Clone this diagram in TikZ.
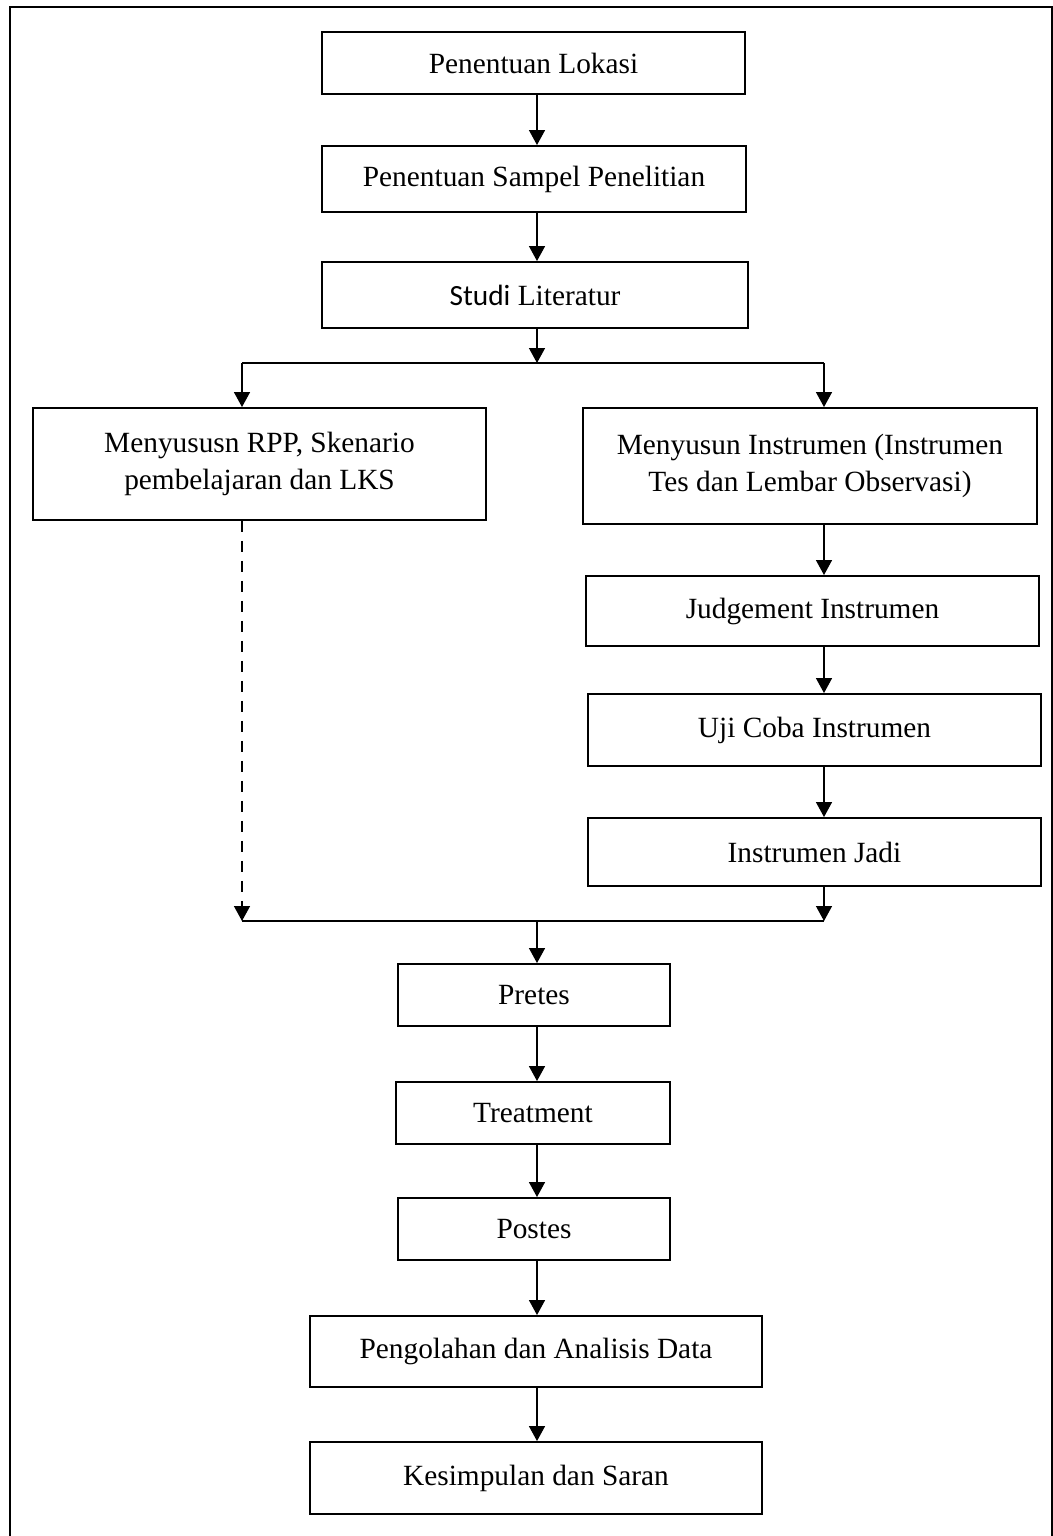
\documentclass[tikz,border=0pt]{standalone}
\usepackage{fontspec}
\setmainfont{Liberation Serif}
\newfontfamily\carlito{Carlito}
\usetikzlibrary{arrows.meta}

\begin{document}
\begin{tikzpicture}[x=0.02cm, y=-0.02cm,
    box/.style={draw, line width=1.1pt, align=center, inner sep=0pt,
        font=\fontsize{16.7}{21}\selectfont},
    arr/.style={-{Triangle[length=0.3cm, width=0.32cm]}, line width=0.8pt},
    link/.style={line width=0.8pt}]
    \fill[white] (0,0) rectangle (1053,1536);
    \useasboundingbox (0,0) rectangle (1053,1536);
    % outer frame (runs off the page at the bottom)
    \begin{scope}
        \clip (0,0) rectangle (1053,1536);
        \draw[line width=1.1pt] (10,7) rectangle (1052,1570);
    \end{scope}

    % columns
    \coordinate (mid) at (537,0);
    \coordinate (left) at (242,0);
    \coordinate (right) at (824,0);

    % top chain
    \node[box, minimum width=8.46cm, minimum height=1.24cm] (lokasi) at (533.5,63) {Penentuan Lokasi};
    \node[box, minimum width=8.48cm, minimum height=1.32cm] (sampel) at (534,179) {Penentuan Sampel Penelitian};
    \node[box, minimum width=8.52cm, minimum height=1.32cm] (studi) at (535,295) {{\carlito Studi} Literatur};

    % two branches
    \node[box, minimum width=9.06cm, minimum height=2.24cm] (rpp) at (259.5,464) {Menyususn RPP, Skenario\\pembelajaran dan LKS};
    \node[box, minimum width=9.08cm, minimum height=2.32cm] (susun) at (810,466) {Menyusun Instrumen (Instrumen\\Tes dan Lembar Observasi)};
    \node[box, minimum width=9.06cm, minimum height=1.40cm] (judge) at (812.5,611) {Judgement Instrumen};
    \node[box, minimum width=9.06cm, minimum height=1.44cm] (ujicoba) at (814.5,730) {Uji Coba Instrumen};
    \node[box, minimum width=9.06cm, minimum height=1.36cm] (jadi) at (814.5,852) {Instrumen Jadi};

    % bottom chain
    \node[box, minimum width=5.44cm, minimum height=1.24cm] (pretes) at (534,995) {Pretes};
    \node[box, minimum width=5.48cm, minimum height=1.24cm] (treat) at (533,1113) {Treatment};
    \node[box, minimum width=5.44cm, minimum height=1.24cm] (postes) at (534,1229) {Postes};
    \node[box, minimum width=9.04cm, minimum height=1.42cm] (olah) at (536,1351.5) {Pengolahan dan Analisis Data};
    \node[box, minimum width=9.04cm, minimum height=1.44cm] (simpul) at (536,1478) {Kesimpulan dan Saran};

    % junctions
    \coordinate (split) at (537,363);
    \coordinate (merge) at (537,921);

    \draw[arr] (lokasi.south -| mid) -- (sampel.north -| mid);
    \draw[arr] (sampel.south -| mid) -- (studi.north -| mid);
    \draw[arr] (studi.south -| mid) -- (split);
    \draw[link] (split -| left) -- (split -| right);
    \draw[arr] (split -| left) -- (rpp.north -| left);
    \draw[arr] (split -| right) -- (susun.north -| right);

    \draw[arr] (susun.south -| right) -- (judge.north -| right);
    \draw[arr] (judge.south -| right) -- (ujicoba.north -| right);
    \draw[arr] (ujicoba.south -| right) -- (jadi.north -| right);

    \draw[arr] (jadi.south -| right) -- (merge -| right);
    \draw[arr, dash pattern=on 0.22cm off 0.18cm] (rpp.south -| left) -- (merge -| left);
    \draw[link] (merge -| left) -- (merge -| right);
    \draw[arr] (merge) -- (pretes.north -| mid);

    \draw[arr] (pretes.south -| mid) -- (treat.north -| mid);
    \draw[arr] (treat.south -| mid) -- (postes.north -| mid);
    \draw[arr] (postes.south -| mid) -- (olah.north -| mid);
    \draw[arr] (olah.south -| mid) -- (simpul.north -| mid);
\end{tikzpicture}
\end{document}
